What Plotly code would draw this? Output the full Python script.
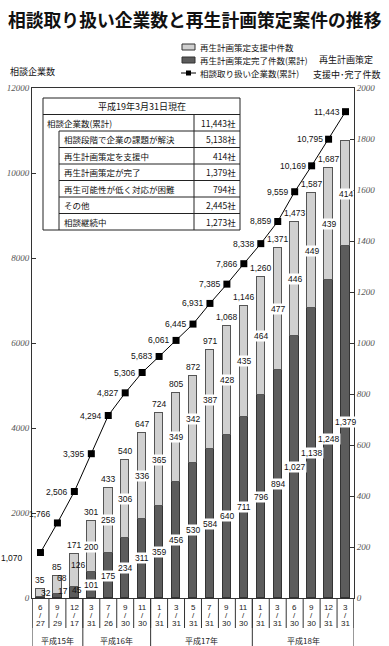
import plotly.graph_objects as go

# ---------------- data ----------------
months = ["6", "9", "12", "3", "7", "9", "11", "1", "3", "5", "7", "9", "11", "1", "3", "6", "9", "12", "3"]
days = ["27", "29", "17", "31", "26", "30", "30", "31", "31", "31", "31", "30", "30", "31", "31", "30", "30", "31", "31"]
year_labels = ["平成15年", "平成16年", "平成17年", "平成18年"]
year_counts = [3, 4, 6, 6]

completed = [3, 17, 45, 101, 175, 234, 311, 359, 456, 530, 584, 640, 711, 796, 894, 1027, 1138, 1248, 1379]
supporting = [32, 68, 126, 200, 258, 306, 336, 365, 349, 342, 387, 428, 435, 464, 477, 446, 449, 439, 414]
consult = [1070, 1766, 2506, 3395, 4294, 4827, 5306, 5683, 6061, 6445, 6931, 7385, 7866, 8338, 8859, 9559, 10169, 10795, 11443]

table_header = "平成19年3月31日現在"
table_labels = ["相談企業数(累計)", "相談段階で企業の課題が解決", "再生計画策定を支援中", "再生計画策定が完了",
                "再生可能性が低く対応が困難", "その他", "相談継続中"]
table_values = ["11,443社", "5,138社", "414社", "1,379社", "794社", "2,445社", "1,273社"]

legend_names = ["再生計画策定支援中件数", "再生計画策定完了件数(累計)", "相談取り扱い企業数(累計)"]

# ---------------- geometry helpers (page pixels) ----------------
W, H = 389, 646
L, R, T, B = 32, 354, 88, 598          # plot area in pixels
def px(x):
    return (x - L) / (R - L)
def py(y):
    return (B - y) / (B - T)

JP = "Noto Sans CJK JP"
NUM = "Liberation Sans"
TICKF = dict(family="Liberation Serif", size=9, color="#555", style="italic")

n = len(months)
xs = list(range(n))
totals = [c + s for c, s in zip(completed, supporting)]

fig = go.Figure()
fig.add_trace(go.Bar(x=xs, y=completed, yaxis="y2", width=0.5, name=legend_names[1],
                     marker=dict(color="#5c5c5c", line=dict(color="#333333", width=1)),
                     showlegend=False, hoverinfo="skip"))
fig.add_trace(go.Bar(x=xs, y=supporting, yaxis="y2", width=0.5, name=legend_names[0],
                     marker=dict(color="#d0d0d0", line=dict(color="#555555", width=1)),
                     showlegend=False, hoverinfo="skip"))
fig.add_trace(go.Scatter(x=xs, y=consult, yaxis="y", mode="lines+markers", name=legend_names[2],
                         line=dict(color="#000000", width=1),
                         marker=dict(symbol="square", size=7, color="#000000"),
                         showlegend=False, hoverinfo="skip"))

ann = []
shapes = []

def add_text(x, y, text, xref="paper", yref="paper", xanchor="center", yanchor="middle",
             size=9, family=JP, color="#111", **kw):
    ann.append(dict(x=x, y=y, xref=xref, yref=yref, text=text, showarrow=False,
                    xanchor=xanchor, yanchor=yanchor,
                    font=dict(family=family, size=size, color=color), **kw))

# line labels
for i, v in enumerate(consult):
    xsh, ysh = -5, 0
    if i == 0:
        xsh, ysh = -16, -5
    elif i == 1:
        xsh, ysh = -5, 9
    add_text(i, v, f"{v:,}", xref="x", yref="y", xanchor="right", xshift=xsh, yshift=ysh,
             family=NUM, size=8.5, borderpad=0)

# bar labels
for i in range(n):
    c, s, t = completed[i], supporting[i], totals[i]
    if i < n - 1:
        add_text(i, t, f"{t:,}", xref="x", yref="y2", yanchor="bottom", yshift=2,
                 family=NUM, size=8.5)
    sx, sy = 0, 0
    if i == 0:
        sx, sy = 6, 0
    elif i == 1:
        sx, sy = 5, 7
    elif i == 2:
        sx, sy = 4, 5
    add_text(i, c + s / 2, f"{s:,}", xref="x", yref="y2", xshift=sx, yshift=sy,
             bgcolor="#ffffff" if i > 2 else "rgba(0,0,0,0)", borderpad=0, family=NUM, size=8.5)
    if i >= 1:
        cx, cy = 0, 0
        if i == 1:
            cx, cy = 6, 5
        elif i == 2:
            cx, cy = 3, 2
        add_text(i, c / 2, f"{c:,}", xref="x", yref="y2", xshift=cx, yshift=cy,
                 bgcolor="#ffffff" if i > 2 else "rgba(0,0,0,0)", borderpad=0, family=NUM, size=8.5)

# category tick labels (month / day)
for i in range(n):
    add_text(i, py(607), months[i], xref="x", family=NUM, size=8, color="#222")
    add_text(i, py(615), "/", xref="x", family=NUM, size=8, color="#222")
    add_text(i, py(623), days[i], xref="x", family=NUM, size=8, color="#222")

# separators
for i in range(n + 1):
    shapes.append(dict(type="line", xref="x", yref="paper", x0=i - 0.5, x1=i - 0.5,
                       y0=0, y1=py(628), line=dict(color="#333", width=1)))
start = 0
bounds = [-0.5]
for lab, cnt in zip(year_labels, year_counts):
    end = start + cnt
    bounds.append(end - 0.5)
    add_text((start + end - 1) / 2, py(640), lab, xref="x", size=8, color="#222")
    start = end
for b in bounds:
    shapes.append(dict(type="line", xref="x", yref="paper", x0=b, x1=b,
                       y0=0, y1=py(650), line=dict(color="#333", width=1)))

# table
tx0, tx1, tin, tval = 43, 240, 59, 194
ty0, rh = 98, 16.5
rows = len(table_labels) + 1
ty1 = ty0 + rh * rows
def rect_line(x0, y0, x1, y1):
    shapes.append(dict(type="line", xref="paper", yref="paper", x0=px(x0), x1=px(x1),
                       y0=py(y0), y1=py(y1), line=dict(color="#222", width=1)))
shapes.append(dict(type="rect", xref="paper", yref="paper", x0=px(tx0), x1=px(tx1),
                   y0=py(ty0), y1=py(ty1), line=dict(color="#222", width=1), fillcolor="#ffffff",
                   layer="above"))
rect_line(tx0, ty0 + rh, tx1, ty0 + rh)
for r in range(2, rows):
    rect_line(tin, ty0 + rh * r, tx1, ty0 + rh * r)
rect_line(tin, ty0 + 2 * rh, tin, ty1)
rect_line(tval, ty0 + rh, tval, ty1)
add_text(px((tx0 + tx1) / 2), py(ty0 + rh / 2), table_header, size=9)
for r, (lab, val) in enumerate(zip(table_labels, table_values)):
    yc = ty0 + rh * (r + 1.5)
    lx = tx0 + 2 if r == 0 else tin + 3
    add_text(px(lx), py(yc), lab, xanchor="left", size=8.5)
    add_text(px(tx1 - 2), py(yc), val, xanchor="right", size=8.5)

# legend (manual)
leg_y = [47, 60, 73]
shapes.append(dict(type="rect", xref="paper", yref="paper", x0=px(182), x1=px(195),
                   y0=py(44), y1=py(50), fillcolor="#d0d0d0", line=dict(color="#333", width=1)))
shapes.append(dict(type="rect", xref="paper", yref="paper", x0=px(182), x1=px(195),
                   y0=py(57), y1=py(63), fillcolor="#5c5c5c", line=dict(color="#333", width=1)))
shapes.append(dict(type="line", xref="paper", yref="paper", x0=px(181), x1=px(196),
                   y0=py(73), y1=py(73), line=dict(color="#000", width=1)))
shapes.append(dict(type="rect", xref="paper", yref="paper", x0=px(186), x1=px(191),
                   y0=py(70.5), y1=py(75.5), fillcolor="#000", line=dict(color="#000", width=0)))
for name, yy in zip(legend_names, leg_y):
    add_text(px(198), py(yy), name, xanchor="left", size=8.5)

# axis titles
add_text(px(8), py(72), "相談企業数", xanchor="left", size=9)
add_text(px(346), py(60), "再生計画策定", size=9)
add_text(px(347), py(74), "支援中･完了件数", size=9)

fig.update_layout(
    width=W, height=H,
    margin=dict(l=L, r=W - R, t=T, b=H - B, pad=0),
    paper_bgcolor="#ffffff", plot_bgcolor="#ffffff",
    barmode="stack", bargap=0,
    showlegend=False,
    title=dict(text="相談取り扱い企業数と再生計画策定案件の推移", x=8 / W, xanchor="left", xref="container",
               y=1 - 21 / H, yanchor="middle", yref="container", pad=dict(l=0, r=0, t=0, b=0),
               font=dict(family=JP, size=17.8, color="#111", weight="bold")),
    xaxis=dict(range=[-0.5, n - 0.5], showticklabels=False, showgrid=False, zeroline=False,
               showline=True, linecolor="#333", linewidth=1, mirror=True, ticks="", automargin=False),
    yaxis=dict(range=[0, 12000], dtick=2000, tickformat="d", showgrid=False, zeroline=False,
               showline=True, linecolor="#333", linewidth=1, ticks="inside", ticklen=4,
               tickcolor="#333", automargin=False, tickfont=TICKF),
    yaxis2=dict(range=[0, 2000], dtick=200, tickformat="d", overlaying="y", side="right",
                showgrid=False, zeroline=False, showline=True, linecolor="#333", linewidth=1,
                ticks="inside", ticklen=4, tickcolor="#333", automargin=False, tickfont=TICKF),
    annotations=ann, shapes=shapes,
)

# remove the browser's default 8px body margin so the figure fills the window exactly
fig.write_html("out.html", config={"displayModeBar": False},
               post_script="document.body.style.margin='0';document.body.style.overflow='hidden';")
